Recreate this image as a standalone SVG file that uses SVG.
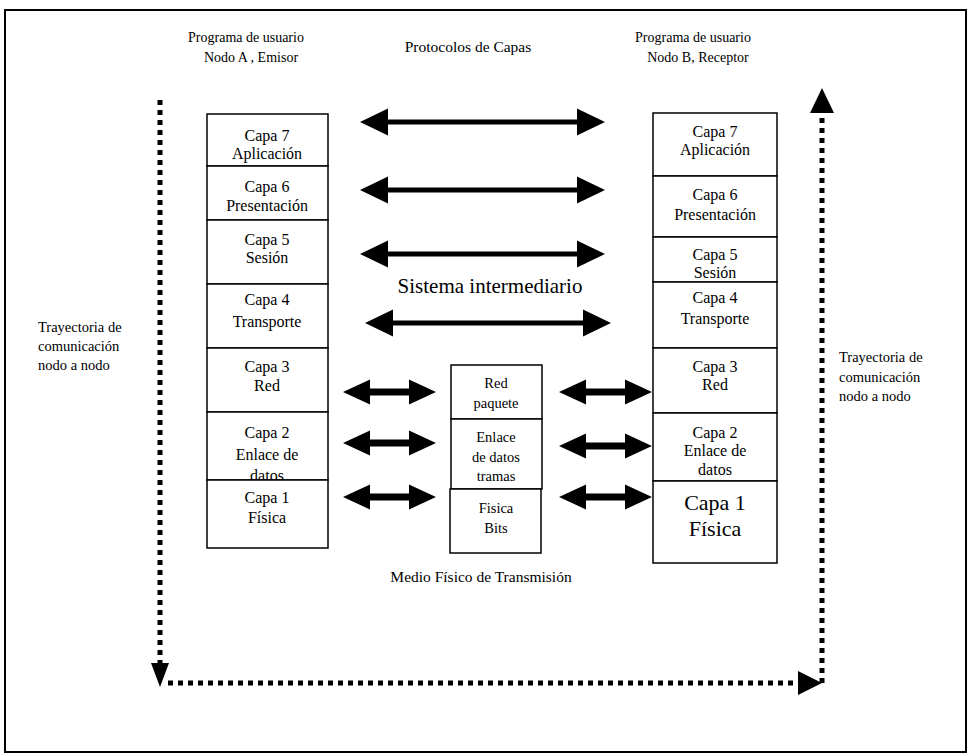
<svg xmlns="http://www.w3.org/2000/svg" width="977" height="755" viewBox="0 0 977 755">
<style>
text{font-family:"Liberation Serif","Times New Roman",serif;font-size:16px;fill:#000}
.c{text-anchor:middle}
.hd{font-size:14px}
.tr{font-size:14.5px}
.mid{font-size:14.5px}
.big{font-size:22px}
.sis{font-size:21px}
.box{fill:#fff;stroke:#000;stroke-width:1.5}
.dot{fill:none;stroke:#000;stroke-width:5;stroke-dasharray:5 5}
.ar{fill:#000}
</style>
<rect x="0" y="0" width="977" height="755" fill="#fff"/>
<rect x="5" y="10" width="961" height="742" fill="none" stroke="#000" stroke-width="2"/>

<g id="headers">
<text class="c hd" x="246" y="42">Programa de usuario</text>
<text class="c hd" x="251" y="62">Nodo A , Emisor</text>
<text class="c hd" x="468" y="52" style="font-size:15.5px">Protocolos de Capas</text>
<text class="c hd" x="693" y="42">Programa de usuario</text>
<text class="c hd" x="698" y="62">Nodo B, Receptor</text>
</g>

<g id="label-left">
<text class="tr" x="38" y="332">Trayectoria de</text>
<text class="tr" x="38" y="351">comunicación</text>
<text class="tr" x="38" y="370">nodo a nodo</text>
</g>
<g id="label-right">
<text class="tr" x="839" y="362">Trayectoria de</text>
<text class="tr" x="839" y="382">comunicación</text>
<text class="tr" x="839" y="401">nodo a nodo</text>
</g>

<g id="nodoA">
<g id="a7"><rect class="box" x="207" y="114" width="121" height="52"/><text class="c" x="267" y="141">Capa 7</text><text class="c" x="267" y="159">Aplicación</text></g>
<g id="a6"><rect class="box" x="207" y="166" width="121" height="54"/><text class="c" x="267" y="192">Capa 6</text><text class="c" x="267" y="211">Presentación</text></g>
<g id="a5"><rect class="box" x="207" y="220" width="121" height="64"/><text class="c" x="267" y="245">Capa 5</text><text class="c" x="267" y="263">Sesión</text></g>
<g id="a4"><rect class="box" x="207" y="284" width="121" height="64"/><text class="c" x="267" y="305">Capa 4</text><text class="c" x="267" y="327">Transporte</text></g>
<g id="a3"><rect class="box" x="207" y="348" width="121" height="64"/><text class="c" x="267" y="372">Capa 3</text><text class="c" x="267" y="391">Red</text></g>
<g id="a2"><rect class="box" x="207" y="412" width="121" height="68"/><text class="c" x="267" y="438">Capa 2</text><text class="c" x="267" y="460">Enlace de</text><text class="c" x="267" y="481">datos</text></g>
<g id="a1"><rect class="box" x="207" y="480" width="121" height="68"/><text class="c" x="267" y="503">Capa 1</text><text class="c" x="267" y="523">Física</text></g>
</g>

<g id="nodoB">
<g id="b7"><rect class="box" x="653" y="113" width="124" height="63"/><text class="c" x="715" y="137">Capa 7</text><text class="c" x="715" y="155">Aplicación</text></g>
<g id="b6"><rect class="box" x="653" y="176" width="124" height="61"/><text class="c" x="715" y="200">Capa 6</text><text class="c" x="715" y="220">Presentación</text></g>
<g id="b5"><rect class="box" x="653" y="237" width="124" height="45"/><text class="c" x="715" y="260">Capa 5</text><text class="c" x="715" y="278">Sesión</text></g>
<g id="b4"><rect class="box" x="653" y="282" width="124" height="66"/><text class="c" x="715" y="303">Capa 4</text><text class="c" x="715" y="324">Transporte</text></g>
<g id="b3"><rect class="box" x="653" y="348" width="124" height="65"/><text class="c" x="715" y="372">Capa 3</text><text class="c" x="715" y="390">Red</text></g>
<g id="b2"><rect class="box" x="653" y="413" width="124" height="68"/><text class="c" x="715" y="438">Capa 2</text><text class="c" x="715" y="456">Enlace de</text><text class="c" x="715" y="475">datos</text></g>
<g id="b1"><rect class="box" x="653" y="481" width="124" height="82"/><text class="c big" x="715" y="510">Capa 1</text><text class="c big" x="715" y="536">Física</text></g>
</g>

<g id="intermedio">
<g id="m3"><rect class="box" x="451" y="365" width="91" height="54"/><text class="c mid" x="496" y="388">Red</text><text class="c mid" x="496" y="408">paquete</text></g>
<g id="m2"><rect class="box" x="451" y="419" width="91" height="70"/><text class="c mid" x="496" y="442">Enlace</text><text class="c mid" x="496" y="462">de datos</text><text class="c mid" x="496" y="481">tramas</text></g>
<g id="m1"><rect class="box" x="450" y="489" width="91" height="64"/><text class="c mid" x="496" y="513">Fisica</text><text class="c mid" x="496" y="533">Bits</text></g>
</g>

<text class="c sis" x="490" y="293">Sistema intermediario</text>
<text class="c" x="481" y="582" style="font-size:15.5px">Medio Físico de Transmisión</text>

<g id="connectors">
<polygon class="ar" points="360,122 388,108.5 388,119.5 577,119.5 577,108.5 605,122 577,135.5 577,124.5 388,124.5 388,135.5"/>
<polygon class="ar" points="360,190 388,176.5 388,187.5 577,187.5 577,176.5 605,190 577,203.5 577,192.5 388,192.5 388,203.5"/>
<polygon class="ar" points="360,254 388,240.5 388,251.5 577,251.5 577,240.5 605,254 577,267.5 577,256.5 388,256.5 388,267.5"/>
<polygon class="ar" points="365,323 393,309.5 393,320.5 583,320.5 583,309.5 611,323 583,336.5 583,325.5 393,325.5 393,336.5"/>
<polygon class="ar" points="343,392 370,379.5 370,388.5 409,388.5 409,379.5 436,392 409,404.5 409,395.5 370,395.5 370,404.5"/>
<polygon class="ar" points="343,443 370,430.5 370,439.5 409,439.5 409,430.5 436,443 409,455.5 409,446.5 370,446.5 370,455.5"/>
<polygon class="ar" points="343,497 370,484.5 370,493.5 409,493.5 409,484.5 436,497 409,509.5 409,500.5 370,500.5 370,509.5"/>
<polygon class="ar" points="559,392 586,379.5 586,388.5 625,388.5 625,379.5 652,392 625,404.5 625,395.5 586,395.5 586,404.5"/>
<polygon class="ar" points="559,446 586,433.5 586,442.5 625,442.5 625,433.5 652,446 625,458.5 625,449.5 586,449.5 586,458.5"/>
<polygon class="ar" points="559,497 586,484.5 586,493.5 625,493.5 625,484.5 652,497 625,509.5 625,500.5 586,500.5 586,509.5"/>
<line class="dot" x1="160" y1="100" x2="160" y2="664"/>
<polygon class="ar" points="151,663 169,663 160,687"/>
<line class="dot" x1="168" y1="683" x2="800" y2="683"/>
<polygon class="ar" points="798,671 822,683 798,695"/>
<line class="dot" x1="822" y1="683" x2="822" y2="112"/>
<polygon class="ar" points="810,113 834,113 822,88"/>
</g>
</svg>
